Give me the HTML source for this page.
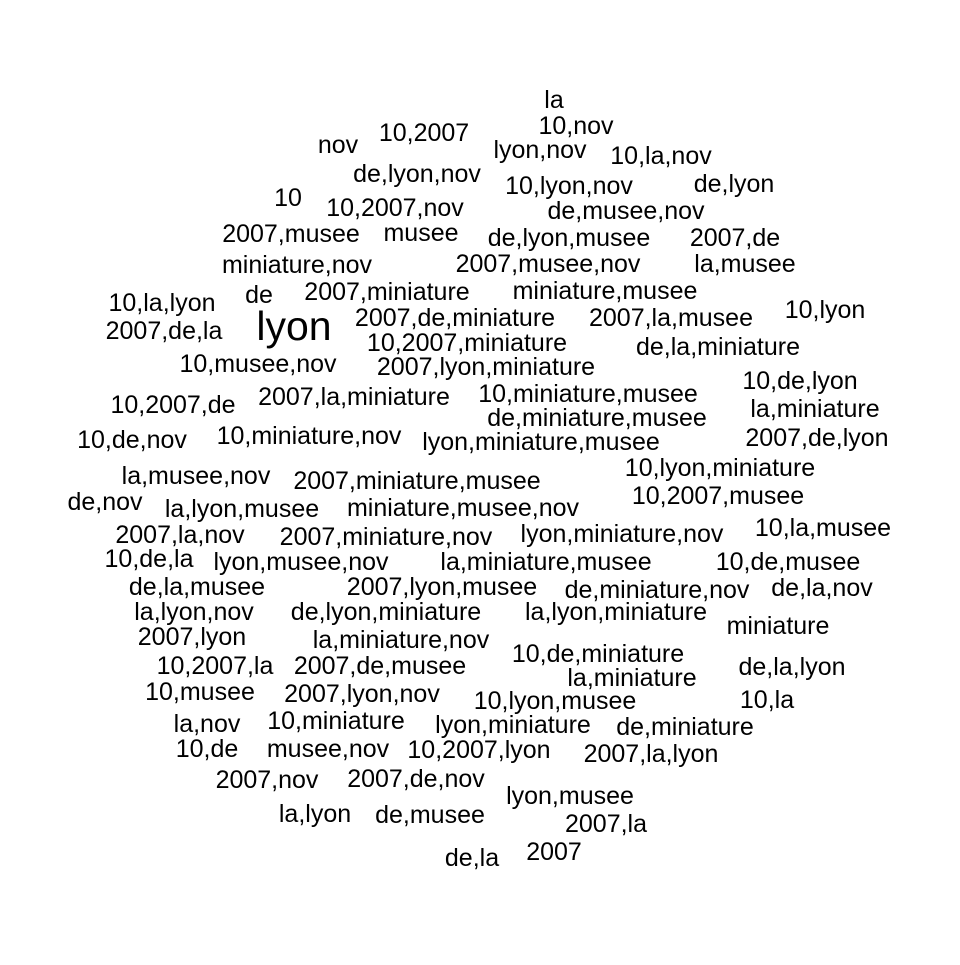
<!DOCTYPE html>
<html><head><meta charset="utf-8"><style>
html,body{margin:0;padding:0;background:#fff;}
svg text{font-family:"Liberation Sans",Arial,sans-serif;fill:#000;}
</style></head><body>
<svg id="cloud" width="960" height="960" viewBox="0 0 960 960" xmlns="http://www.w3.org/2000/svg">
<rect width="960" height="960" fill="#fff"/>
</svg>
<script>
const words = ["la","10,nov","10,2007","nov","lyon,nov","10,la,nov","de,lyon,nov","10,lyon,nov","de,lyon","10","10,2007,nov","de,musee,nov","2007,musee","musee","de,lyon,musee","2007,de","miniature,nov","2007,musee,nov","la,musee","10,la,lyon","de","2007,miniature","miniature,musee","10,lyon","lyon","2007,de,la","2007,de,miniature","2007,la,musee","10,2007,miniature","de,la,miniature","10,musee,nov","2007,lyon,miniature","10,de,lyon","10,2007,de","2007,la,miniature","10,miniature,musee","la,miniature","de,miniature,musee","10,de,nov","10,miniature,nov","lyon,miniature,musee","2007,de,lyon","la,musee,nov","2007,miniature,musee","10,lyon,miniature","de,nov","la,lyon,musee","miniature,musee,nov","10,2007,musee","10,la,musee","2007,la,nov","2007,miniature,nov","lyon,miniature,nov","10,de,la","lyon,musee,nov","la,miniature,musee","10,de,musee","de,la,musee","2007,lyon,musee","de,miniature,nov","de,la,nov","la,lyon,nov","de,lyon,miniature","la,lyon,miniature","miniature","2007,lyon","la,miniature,nov","10,de,miniature","10,2007,la","2007,de,musee","la,miniature","de,la,lyon","10,musee","2007,lyon,nov","10,lyon,musee","10,la","10,miniature","lyon,miniature","de,miniature","la,nov","10,de","musee,nov","10,2007,lyon","2007,la,lyon","2007,nov","2007,de,nov","lyon,musee","la,lyon","de,musee","2007,la","de,la","2007"];
const xs = [554,576,424,338,540,661,417,569,734,288,395,626,291,421,569,735,297,548,745,162,259,387,605,825,294,164,455,671,467,718,258,486,800,173,354,588,815,597,132,309,541,817,196,417,720,105,242,463,718,823,180,386,622,149,301,546,788,197,442,657,822,194,386,616,778,192,401,598,215,380,632,792,200,362,555,767,336,513,685,207,207,328,479,651,267,416,570,315,430,606,472,554];
const ys = [100,126,133,145,150,156,174,186,184,198,208,211,234,233,238,238,265,264,264,303,295,292,291,310,326,331,318,318,343,347,364,367,381,405,397,394,409,418,440,436,442,438,476,481,468,502,509,508,496,528,535,537,534,559,562,562,562,587,587,590,588,612,612,612,626,637,640,654,666,666,678,667,692,694,701,700,721,725,727,724,749,749,750,754,780,779,796,814,815,824,858,852];
const weights = words.map(w => w === "lyon" ? 2 : 1);
const svg = document.getElementById('cloud');
for (let i = 0; i < words.length; i++) {
  const t = document.createElementNS('http://www.w3.org/2000/svg', 'text');
  t.setAttribute('x', xs[i]);
  t.setAttribute('y', ys[i]);
  t.setAttribute('text-anchor', 'middle');
  t.setAttribute('dominant-baseline', 'central');
  t.setAttribute('font-size', weights[i] === 2 ? 41 : 25);
  t.textContent = words[i];
  
  
  svg.appendChild(t);
}
</script>
</body></html>
